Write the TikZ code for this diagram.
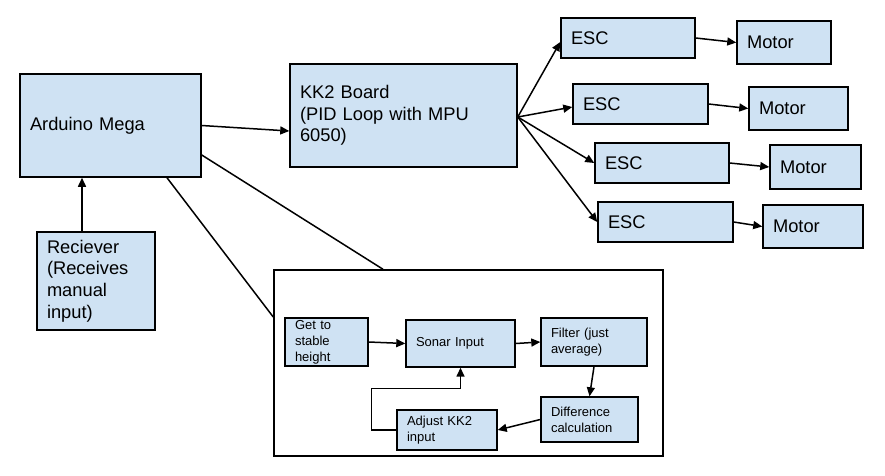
\documentclass[tikz,border=0pt]{standalone}
\usepackage{fontspec}
\setmainfont{Liberation Sans}
\usetikzlibrary{arrows.meta}
\definecolor{boxblue}{HTML}{CFE2F3}
\begin{document}
\begin{tikzpicture}[x=1pt,y=-1pt,
  box/.style={draw=black, fill=boxblue, line width=1.5pt, rectangle, align=left,
    inner xsep=10pt, inner ysep=0pt, font=\fontsize{18.3}{21.7}\selectfont},
  ibox/.style={box, line width=1.4pt, font=\fontsize{13}{16}\selectfont},
  arr/.style={line width=1.5pt, -{Triangle[length=9pt,width=8pt]}},
  ln/.style={line width=1.5pt}]
\useasboundingbox (0,0) rectangle (885,475);

% main boxes
\node[box, text width=161pt, minimum height=103pt] (ard) at (110.5,125.5) {Arduino Mega};
\node[box, text width=98pt, minimum height=98pt] (rec) at (96,281) {Reciever\\(Receives\\manual\\input)};
\node[box, text width=207pt, minimum height=103pt] (kk2) at (403.5,115.5) {KK2 Board\\(PID Loop with MPU\\6050)};

\node[box, text width=114pt, minimum height=40pt] (esc1) at (628,38) {ESC};
\node[box, text width=74pt, minimum height=43pt] (mot1) at (784,42.5) {Motor};
\node[box, text width=115pt, minimum height=40pt] (esc2) at (640.5,104) {ESC};
\node[box, text width=79pt, minimum height=43pt] (mot2) at (798.5,108.5) {Motor};
\node[box, text width=114pt, minimum height=40pt] (esc3) at (662,163) {ESC};
\node[box, text width=71pt, minimum height=44pt] (mot3) at (815.5,167) {Motor};
\node[box, text width=115pt, minimum height=40pt] (esc4) at (665.5,222) {ESC};
\node[box, text width=80pt, minimum height=43pt] (mot4) at (813,226.5) {Motor};

% container
\node[draw=black, line width=1.5pt, minimum width=389pt, minimum height=186pt, inner sep=0pt] (cont) at (468.5,363) {};

% inner boxes
\node[ibox, text width=63pt, minimum height=48pt] (get) at (326.5,342) {Get to\\stable\\height};
\node[ibox, text width=89pt, minimum height=47pt] (sonar) at (460.5,343.5) {Sonar Input};
\node[ibox, text width=86pt, minimum height=48pt] (filter) at (594,342) {Filter (just\\average)};
\node[ibox, text width=77pt, minimum height=45pt] (diff) at (589.5,419.5) {Difference\\calculation};
\node[ibox, text width=80pt, minimum height=40pt] (adjust) at (447,430) {Adjust KK2\\input};

% connectors
\coordinate (recTop) at ([xshift=-14pt]rec.north);
\draw[arr] (recTop) -- (recTop |- ard.south);
\draw[arr] (ard.east) -- ([yshift=-15.5pt]kk2.west);
\draw[ln] ([yshift=-29.5pt]ard.east) -- ([xshift=-85.5pt]cont.north);
\draw[ln] ([xshift=56.5pt]ard.south) -- ([yshift=46pt]cont.west);

\coordinate (fan) at ([yshift=-1.5pt]kk2.east);
\draw[arr] (fan) -- ([yshift=-4pt]esc1.west);
\draw[arr] (fan) -- ([yshift=-3pt]esc2.west);
\draw[arr] (fan) -- (esc3.west);
\draw[arr] (fan) -- (esc4.west);

\draw[arr] (esc1.east) -- (mot1.west);
\draw[arr] (esc2.east) -- (mot2.west);
\draw[arr] (esc3.east) -- (mot3.west);
\draw[arr] (esc4.east) -- (mot4.west);

\draw[arr] (get.east) -- (sonar.west);
\draw[arr] (sonar.east) -- (filter.west);
\draw[arr] (filter.south) -- (diff.north);
\draw[arr] (diff.west) -- (adjust.east);
\draw[arr] (adjust.west) -- ++(-25,0) |- ([yshift=-21pt]sonar.south) -- (sonar.south);
\end{tikzpicture}
\end{document}
